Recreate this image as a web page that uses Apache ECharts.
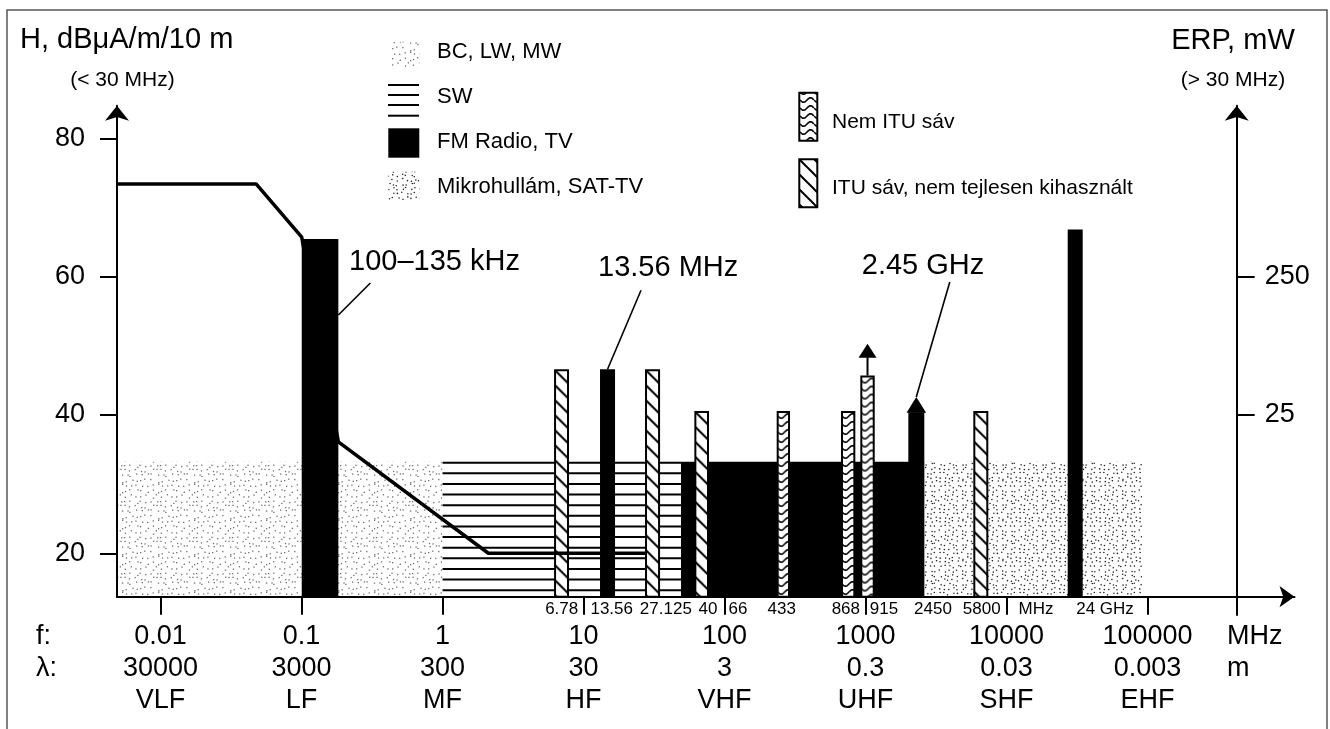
<!DOCTYPE html>
<html>
<head>
<meta charset="utf-8">
<script src="https://cdn.jsdelivr.net/npm/echarts@6/dist/echarts.min.js"></script>
<style>
html, body { margin: 0; padding: 0; background: #fff; }
#chart { width: 1330px; height: 729px; }
</style>
</head>
<body>
<div id="chart"></div>
<script>
// frequency axis (MHz), wavelength (m) and band names
var freqTicks = [0.01, 0.1, 1, 10, 100, 1000, 10000, 100000];
var freqLabels = ['0.01', '0.1', '1', '10', '100', '1000', '10000', '100000'];
var waveLabels = ['30000', '3000', '300', '30', '3', '0.3', '0.03', '0.003'];
var bandLabels = ['VLF', 'LF', 'MF', 'HF', 'VHF', 'UHF', 'SHF', 'EHF'];

// left axis H (dBuA/m/10 m); right axis ERP (mW) drawn on the same scale
var hTicks = [20, 40, 60, 80];
var erpTickAt = [40, 60];
var erpLabels = ['25', '250'];

// broadcast areas
var areaNames = ['BC, LW, MW', 'SW', 'FM Radio, TV', 'Mikrohullám, SAT-TV'];
var areaKind = ['bc', 'sw', 'fm', 'mw'];
var areaFrom = [0.00491, 1, 49.1, 2610];
var areaTo = [1, 49.1, 2610, 91800];
var areaTop = [33.25, 33.25, 33.25, 33.25];

// allocated bands
var barNames = ['100–135 kHz', '6.78', '13.56', '27.125', '40.66', '433', '868', '915', '2450', '5800', '24 GHz'];
var barKind = ['solid', 'itu', 'solid', 'itu', 'itu', 'nonitu', 'nonitu', 'nonitu', 'solid', 'itu', 'solid'];
var barFrom = [0.1003, 6.18, 13.09, 27.3, 61.1, 234.4, 670, 918.6, 2012, 5815, 27160];
var barTo = [0.1824, 7.89, 16.73, 34.9, 77.6, 291.4, 846.7, 1162, 2612, 7428, 34700];
var barTop = [65.45, 46.6, 46.6, 46.6, 40.58, 40.58, 40.58, 45.7, 40.4, 40.58, 66.8];
var barArrowTip = [null, null, null, null, null, null, null, 50.3, 42.6, null, null];

// field strength limit below 30 MHz
var fieldFreq = [0.00491, 0.0476, 0.1003, 0.1824, 2.113, 27.3];
var fieldH = [73.4, 73.4, 65.7, 36.1, 20.0, 20.0];

// small frequency labels under the axis
var subLabels = ['6.78', '13.56', '27.125', '40', '66', '433', '868', '915', '2450', '5800', 'MHz', '24 GHz'];
var subLabelAt = [7.0, 15.85, 38.35, 76.4, 124.6, 254.5, 725, 1353, 3011, 6668, 16180, 49950];

// callouts
var noteText = ['100–135 kHz', '13.56 MHz', '2.45 GHz'];
var noteFreq = [0.1824, 14.8, 2291];
var noteH = [54.46, 46.6, 42.6];

var FONT = '"Liberation Sans", Arial, Helvetica, sans-serif';
var X_MIN = 0.00491, X_MAX = 1.103e6;
var Y_MIN = 13.72, Y_MAX = 84.7, Y2_MIN = 11.08;

// callout geometry (px, relative to anchor)
var noteLineEnd = [[32, -32], [33.5, -79], [33.5, -115]];
var noteTextPos = [[10.7, -53], [-9.5, -101], [-54.5, -131]];

// ---- fill patterns
var seed = 12345;
function rnd() { seed = (seed * 16807) % 2147483647; return (seed - 1) / 2147483646; }
function tile(w, h, draw) {
	var c = document.createElement('canvas');
	c.width = w; c.height = h;
	var ctx = c.getContext('2d');
	ctx.fillStyle = '#fff';
	ctx.fillRect(0, 0, w, h);
	draw(ctx);
	return c;
}
var bcTile = tile(36, 36, function (ctx) {
	ctx.fillStyle = '#707070';
	for (var i = 0; i < 7; i++) for (var j = 0; j < 7; j++) {
		ctx.fillRect(i * 5.14 + rnd() * 4, j * 5.14 + rnd() * 4, 1.3, 1.3);
	}
});
var mwTile = tile(40, 40, function (ctx) {
	ctx.fillStyle = '#222';
	for (var i = 0; i < 9; i++) for (var j = 0; j < 9; j++) {
		ctx.beginPath();
		ctx.arc(i * 4.44 + rnd() * 3 + 0.7, j * 4.44 + rnd() * 3 + 0.7, 0.78, 0, Math.PI * 2);
		ctx.fill();
	}
});
var hatchTile = tile(15, 15, function (ctx) {
	ctx.strokeStyle = '#000';
	ctx.lineWidth = 2;
	[-15, 0, 15].forEach(function (k) {
		ctx.beginPath(); ctx.moveTo(k - 1, -1); ctx.lineTo(k + 16, 16); ctx.stroke();
	});
});
var waveTile = tile(14, 8, function (ctx) {
	ctx.strokeStyle = '#000';
	ctx.lineWidth = 1.6;
	ctx.beginPath();
	for (var x = 0; x <= 14; x += 0.5) {
		var y = 4 + 2.2 * Math.sin(2 * Math.PI * x / 14);
		if (x === 0) ctx.moveTo(x, y); else ctx.lineTo(x, y);
	}
	ctx.stroke();
});
function pat(img, x, y) { return { image: img, repeat: 'repeat', x: x || 0, y: y || 0 }; }

function txt(s, x, y, size, align) {
	var st = {
		text: s, x: x, y: y, fill: '#000', fontSize: size, fontFamily: FONT,
		align: align, textAlign: align, verticalAlign: 'middle', textVerticalAlign: 'middle'
	};
	return { type: 'text', silent: true, style: st, z: 20 };
}

// ---- renderers
function renderArea(params, api) {
	var i = api.value(3);
	var p0 = api.coord([api.value(0), api.value(2)]);
	var p1 = api.coord([api.value(1), Y_MIN]);
	var x = p0[0], y = p0[1], w = p1[0] - p0[0], h = p1[1] - p0[1];
	var kind = areaKind[i];
	if (kind === 'sw') {
		var lines = [];
		for (var yy = y + 1; yy < p1[1] - 4; yy += 10.63) {
			lines.push({ type: 'line', shape: { x1: x, y1: yy, x2: x + w, y2: yy }, style: { stroke: '#000', lineWidth: 2 } });
		}
		return { type: 'group', children: lines };
	}
	var fill = kind === 'fm' ? '#000' : pat(kind === 'bc' ? bcTile : mwTile, 0, 0);
	return { type: 'rect', shape: { x: x, y: y, width: w, height: h }, style: { fill: fill } };
}

function renderBar(params, api) {
	var i = api.value(3);
	var p0 = api.coord([api.value(0), api.value(2)]);
	var p1 = api.coord([api.value(1), Y_MIN]);
	var x = p0[0], y = p0[1], w = p1[0] - p0[0], h = p1[1] - p0[1];
	var cx = x + w / 2;
	var kind = barKind[i];
	var ch = [];
	if (kind === 'solid') {
		ch.push({ type: 'rect', shape: { x: x, y: y, width: w, height: h }, style: { fill: '#000' } });
	} else {
		ch.push({
			type: 'rect', shape: { x: x + 1, y: y + 1, width: w - 2, height: h - 1 },
			style: { fill: pat(kind === 'itu' ? hatchTile : waveTile, x + 1, y + 1), stroke: '#000', lineWidth: 2 }
		});
	}
	var tip = barArrowTip[i];
	if (tip != null) {
		var ty = api.coord([api.value(0), tip])[1];
		if (kind === 'solid') {
			ch.push({ type: 'polygon', shape: { points: [[x - 1.8, y + 0.5], [x + w + 1.8, y + 0.5], [cx, ty]] }, style: { fill: '#000' } });
		} else {
			ch.push({ type: 'line', shape: { x1: cx, y1: y, x2: cx, y2: ty + 13 }, style: { stroke: '#000', lineWidth: 2 } });
			ch.push({ type: 'polygon', shape: { points: [[cx - 9, ty + 14], [cx + 9, ty + 14], [cx, ty]] }, style: { fill: '#000' } });
		}
	}
	return { type: 'group', children: ch };
}

function renderNote(params, api) {
	var i = api.value(2);
	var p = api.coord([api.value(0), api.value(1)]);
	var e = noteLineEnd[i], t = noteTextPos[i];
	return {
		type: 'group', children: [
			{ type: 'line', shape: { x1: p[0], y1: p[1], x2: p[0] + e[0], y2: p[1] + e[1] }, style: { stroke: '#000', lineWidth: 1.6 } },
			txt(noteText[i], p[0] + t[0], p[1] + t[1], 29, 'left')
		]
	};
}

function renderSub(params, api) {
	var i = api.value(1);
	var p = api.coord([api.value(0), Y_MIN]);
	return txt(subLabels[i], p[0], p[1] + 13, 17, 'center');
}

function fmtFreq(v) {
	var lv = Math.log(v) / Math.LN10;
	for (var i = 0; i < freqTicks.length; i++) {
		if (Math.abs(lv - Math.log(freqTicks[i]) / Math.LN10) < 0.01) {
			return freqLabels[i] + '\n' + waveLabels[i] + '\n' + bandLabels[i];
		}
	}
	return '';
}
function fmtErp(v) {
	for (var i = 0; i < erpTickAt.length; i++) if (Math.abs(v - erpTickAt[i]) < 0.01) return erpLabels[i];
	return '';
}

var axisLineStyle = { color: '#000', width: 2 };

// legend
var legend = [
	{ type: 'rect', shape: { x: 391.7, y: 41.7, width: 27.6, height: 26.6 }, style: { fill: pat(bcTile, 0, 0) }, z: 20 },
	{ type: 'rect', shape: { x: 388.3, y: 128.3, width: 31, height: 29.4 }, style: { fill: '#000' }, z: 20 },
	{ type: 'rect', shape: { x: 388.3, y: 171.7, width: 31, height: 28.3 }, style: { fill: pat(mwTile, 0, 0) }, z: 20 },
	{ type: 'rect', shape: { x: 799.3, y: 92.7, width: 18, height: 48 }, style: { fill: pat(waveTile, 800, 0), stroke: '#000', lineWidth: 2 }, z: 20 },
	{ type: 'rect', shape: { x: 799.3, y: 159.3, width: 18, height: 48 }, style: { fill: pat(hatchTile, 800, 160), stroke: '#000', lineWidth: 2 }, z: 20 },
	txt(areaNames[0], 437, 52, 22, 'left'),
	txt(areaNames[1], 437, 97, 22, 'left'),
	txt(areaNames[2], 437, 142, 22, 'left'),
	txt(areaNames[3], 437, 187, 22, 'left'),
	txt('Nem ITU sáv', 832, 122, 21, 'left'),
	txt('ITU sáv, nem tejlesen kihasznált', 832, 188.5, 21, 'left')
];
[85, 95, 105, 115.7].forEach(function (yy) {
	legend.push({ type: 'line', shape: { x1: 388, y1: yy, x2: 419, y2: yy }, style: { stroke: '#000', lineWidth: 2 }, z: 20 });
});

var graphics = [
	{ type: 'polyline', shape: { points: [[7, 745], [7, 10], [1327, 10], [1327, 745]] }, style: { stroke: '#555', lineWidth: 1.5, fill: null } },
	txt('H, dBμA/m/10 m', 20, 40, 29, 'left'),
	txt('(< 30 MHz)', 122.5, 80, 21, 'center'),
	txt('ERP, mW', 1233, 41, 29, 'center'),
	txt('(> 30 MHz)', 1233, 80, 21, 'center'),
	txt('f:', 36, 637, 27, 'left'),
	txt('λ:', 36, 669, 27, 'left'),
	txt('MHz', 1227, 637, 27, 'left'),
	txt('m', 1227, 669, 27, 'left')
].concat(legend);

var chart = echarts.init(document.getElementById('chart'), null, { renderer: 'canvas' });

var option = {
	animation: false,
	backgroundColor: '#fff',
	textStyle: { fontFamily: FONT, color: '#000' },
	grid: [
		{ left: 117, right: 35.5, top: 105.8, bottom: 132.3, outerBoundsMode: 'none' },
		{ left: 117, right: 93.3, top: 105.8, bottom: 114, outerBoundsMode: 'none' }
	],
	xAxis: [{
		type: 'log', logBase: 10, gridIndex: 0, min: X_MIN, max: X_MAX, z: 10,
		axisLine: { show: true, onZero: false, symbol: ['none', 'arrow'], symbolSize: [16, 15], lineStyle: axisLineStyle },
		axisTick: { show: true, customValues: freqTicks, length: 18, lineStyle: axisLineStyle },
		axisLabel: {
			show: true, customValues: freqTicks, margin: 24, fontSize: 27, lineHeight: 32,
			color: '#000', fontFamily: FONT, formatter: fmtFreq
		},
		splitLine: { show: false },
		minorTick: { show: false }
	}, {
		type: 'value', gridIndex: 1, show: false, min: 0, max: 1
	}],
	yAxis: [{
		type: 'value', gridIndex: 0, position: 'left', min: Y_MIN, max: Y_MAX, z: 10,
		axisLine: { show: true, onZero: false, symbol: ['none', 'arrow'], symbolSize: [18, 15], lineStyle: axisLineStyle },
		axisTick: { show: true, customValues: hTicks, length: 17, lineStyle: axisLineStyle },
		axisLabel: { show: true, customValues: hTicks, margin: 32, fontSize: 27, color: '#000', fontFamily: FONT },
		splitLine: { show: false }
	}, {
		type: 'value', gridIndex: 1, position: 'right', min: Y2_MIN, max: Y_MAX, z: 10,
		axisLine: { show: true, onZero: false, symbol: ['none', 'arrow'], symbolSize: [18, 15], lineStyle: axisLineStyle },
		axisTick: { show: true, customValues: erpTickAt, length: 18, lineStyle: axisLineStyle },
		axisLabel: { show: true, customValues: erpTickAt, margin: 28, fontSize: 27, color: '#000', fontFamily: FONT, formatter: fmtErp },
		splitLine: { show: false }
	}],
	graphic: { elements: graphics },
	series: [{
		type: 'custom', name: 'areas', xAxisIndex: 0, yAxisIndex: 0, z: 1, silent: true,
		renderItem: renderArea,
		encode: { x: [0, 1], y: 2 },
		data: areaFrom.map(function (f, i) { return [f, areaTo[i], areaTop[i], i]; })
	}, {
		type: 'custom', name: 'bands', xAxisIndex: 0, yAxisIndex: 0, z: 3, silent: true,
		renderItem: renderBar,
		encode: { x: [0, 1], y: 2 },
		data: barFrom.map(function (f, i) { return [f, barTo[i], barTop[i], i]; })
	}, {
		type: 'line', name: 'H limit', xAxisIndex: 0, yAxisIndex: 0, z: 4, silent: true,
		symbol: 'none', lineStyle: { color: '#000', width: 3.5 },
		data: fieldFreq.map(function (f, i) { return [f, fieldH[i]]; })
	}, {
		type: 'custom', name: 'notes', xAxisIndex: 0, yAxisIndex: 0, z: 5, silent: true,
		renderItem: renderNote,
		encode: { x: 0, y: 1 },
		data: noteFreq.map(function (f, i) { return [f, noteH[i], i]; })
	}, {
		type: 'custom', name: 'sub labels', xAxisIndex: 0, yAxisIndex: 0, z: 5, silent: true,
		renderItem: renderSub,
		encode: { x: 0 },
		data: subLabelAt.map(function (f, i) { return [f, i]; })
	}]
};

chart.setOption(option);
window.addEventListener('resize', function () { chart.resize(); });
</script>
</body>
</html>
